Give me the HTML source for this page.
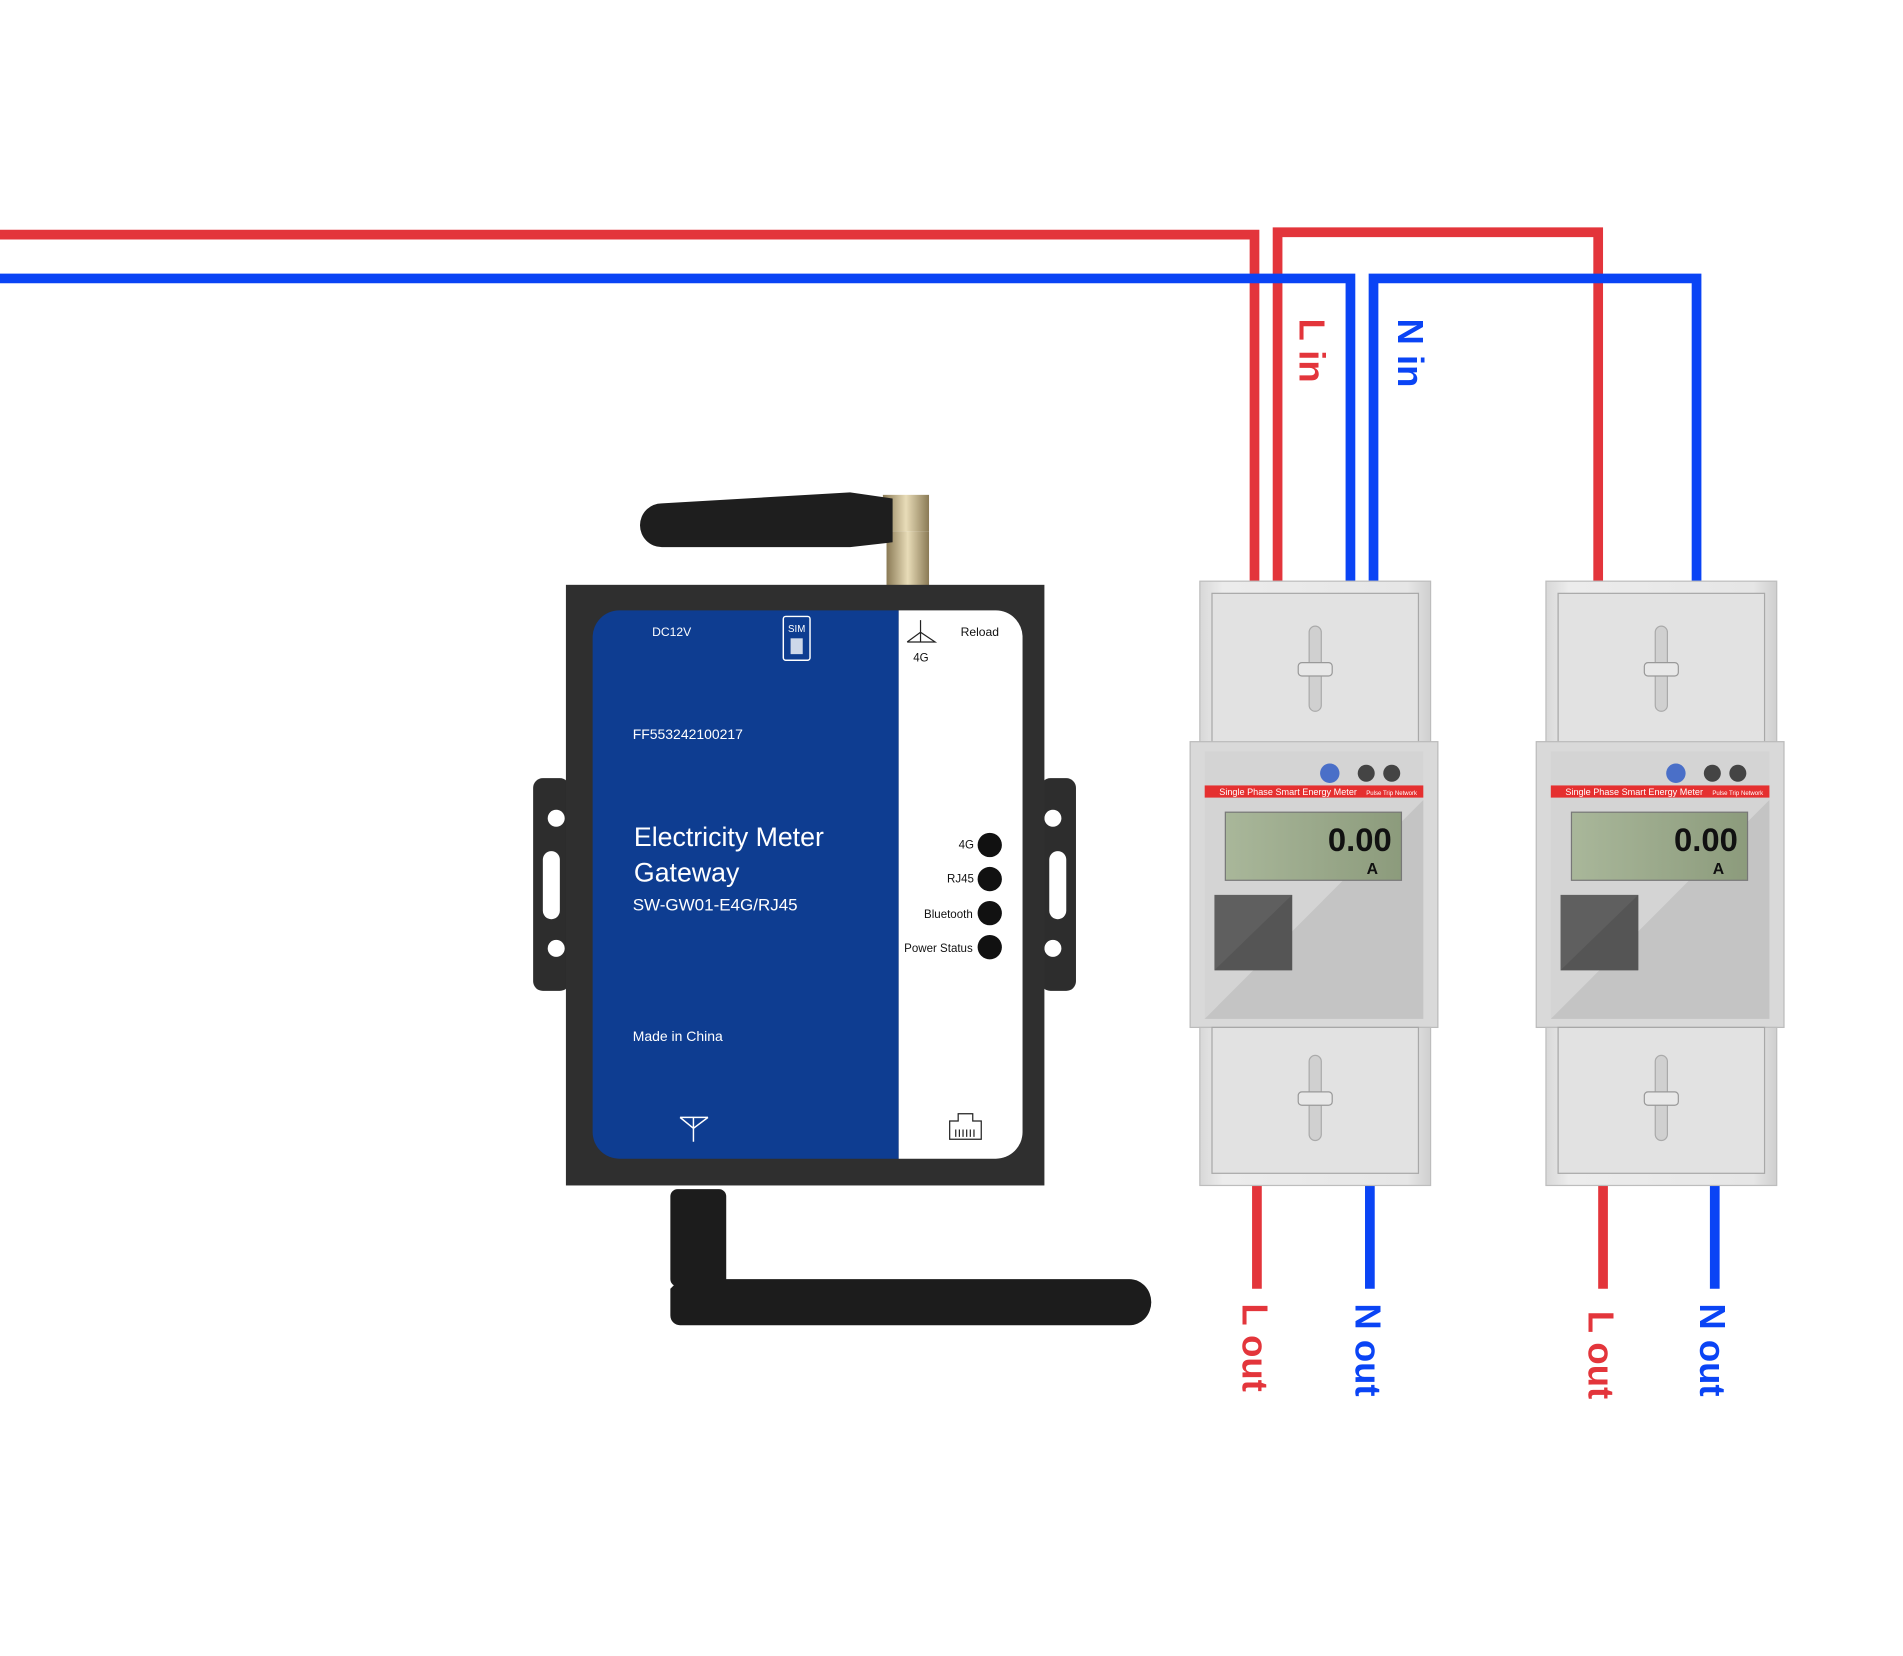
<!DOCTYPE html>
<html><head><meta charset="utf-8"><style>
html,body{margin:0;padding:0;background:#fff;}
svg{display:block;}
text{font-family:"Liberation Sans","DejaVu Sans",sans-serif;}
</style></head><body>
<svg width="1903" height="1656" viewBox="0 0 1567 1362" preserveAspectRatio="none" xmlns="http://www.w3.org/2000/svg">
<defs>
<linearGradient id="mg" x1="0" y1="0" x2="1" y2="0"><stop offset="0" stop-color="#d8d8d8"/><stop offset="0.1" stop-color="#ececec"/><stop offset="0.9" stop-color="#e6e6e6"/><stop offset="1" stop-color="#cfcfcf"/></linearGradient>
<linearGradient id="lcd" x1="0" y1="0" x2="1" y2="0"><stop offset="0" stop-color="#a9b79a"/><stop offset="1" stop-color="#8c9b7c"/></linearGradient>
<linearGradient id="brass" x1="0" y1="0" x2="1" y2="0"><stop offset="0" stop-color="#8a7a55"/><stop offset="0.5" stop-color="#e8dcb8"/><stop offset="1" stop-color="#8a7a55"/></linearGradient>
<g id="meter">
  <rect x="0" y="0" width="190" height="135" fill="url(#mg)" stroke="#bdbdbd"/>
  <rect x="10" y="10" width="170" height="125" fill="#e2e2e2" stroke="#a8a8a8"/>
  <rect x="90" y="37" width="10" height="70" rx="5" fill="#d0d0d0" stroke="#aaa"/>
  <rect x="81" y="67" width="28" height="11" rx="3" fill="#e8e8e8" stroke="#999"/>
  <rect x="-8" y="132" width="204" height="235" fill="#d9d9d9" stroke="#bbb"/>
  <rect x="4" y="140" width="180" height="220" fill="#d4d4d4"/>
  <polygon points="184,180 184,360 4,360" fill="#c4c4c4"/>
  <circle cx="107" cy="158" r="8" fill="#4a6fc8"/>
  <circle cx="137" cy="158" r="7" fill="#444"/>
  <circle cx="158" cy="158" r="7" fill="#444"/>
  <rect x="4" y="168" width="180" height="10" fill="#e53030"/>
  <text x="16" y="176" font-size="7.5" fill="#fff">Single Phase Smart Energy Meter</text>
  <text x="137" y="176" font-size="5" fill="#fff">Pulse Trip Network</text>
  <rect x="21" y="190" width="145" height="56" fill="url(#lcd)" stroke="#777"/>
  <text x="158" y="222" font-size="27" font-family="Liberation Mono,monospace" text-anchor="end" fill="#111" font-weight="bold">0.00</text>
  <text x="142" y="241" font-size="13" fill="#111" font-weight="bold" text-anchor="middle">A</text>
  <rect x="12" y="258" width="64" height="62" fill="#5f5f5f"/>
  <polygon points="12,320 76,258 76,320" fill="#555"/>
  <rect x="0" y="367" width="190" height="130" fill="url(#mg)" stroke="#bdbdbd"/>
  <rect x="10" y="367" width="170" height="120" fill="#e2e2e2" stroke="#a8a8a8"/>
  <rect x="90" y="390" width="10" height="70" rx="5" fill="#d0d0d0" stroke="#aaa"/>
  <rect x="81" y="420" width="28" height="11" rx="3" fill="#e8e8e8" stroke="#999"/>
</g>
</defs>
<rect width="1567" height="1362" fill="#fff"/>
<g fill="none" stroke-width="8">
<polyline points="0,193 1033,193 1033,478" stroke="#e3353b"/>
<polyline points="1052,478 1052,191 1316,191 1316,478" stroke="#e3353b"/>
<polyline points="0,229 1112,229 1112,478" stroke="#0a44f5"/>
<polyline points="1131,478 1131,229 1397,229 1397,478" stroke="#0a44f5"/>
<line x1="1035" y1="975" x2="1035" y2="1060" stroke="#e3353b"/>
<line x1="1128" y1="975" x2="1128" y2="1060" stroke="#0a44f5"/>
<line x1="1320" y1="975" x2="1320" y2="1060" stroke="#e3353b"/>
<line x1="1412" y1="975" x2="1412" y2="1060" stroke="#0a44f5"/>
</g>
<g font-weight="bold" font-size="30">
<text transform="translate(1070,262) rotate(90)" fill="#e3353b">L in</text>
<text transform="translate(1151,262) rotate(90)" fill="#0a44f5">N in</text>
<text transform="translate(1023,1072) rotate(90)" fill="#e3353b">L out</text>
<text transform="translate(1116,1072) rotate(90)" fill="#0a44f5">N out</text>
<text transform="translate(1308,1078) rotate(90)" fill="#e3353b">L out</text>
<text transform="translate(1400,1072) rotate(90)" fill="#0a44f5">N out</text>
</g>
<use href="#meter" x="988" y="478"/>
<use href="#meter" x="1273" y="478"/>
<rect x="727" y="407" width="38" height="30" fill="url(#brass)"/>
<rect x="730" y="437" width="35" height="45" fill="url(#brass)"/>
<path d="M545,414 L700,405 L735,410 L735,446 L700,450 L545,450 A18,18 0 0 1 545,414 Z" fill="#1e1e1e"/>
<rect x="552" y="978" width="46" height="80" rx="6" fill="#1c1c1c"/>
<path d="M560,1052 L930,1052 A18,19 0 0 1 930,1090 L560,1090 A8,8 0 0 1 552,1082 L552,1060 Z" fill="#1c1c1c"/>
<rect x="439" y="640" width="30" height="175" rx="8" fill="#2d2d2d"/>
<rect x="857" y="640" width="29" height="175" rx="8" fill="#2d2d2d"/>
<circle cx="458" cy="673" r="7" fill="#fff"/><circle cx="458" cy="780" r="7" fill="#fff"/>
<rect x="447" y="700" width="14" height="56" rx="7" fill="#fff"/>
<circle cx="867" cy="673" r="7" fill="#fff"/><circle cx="867" cy="780" r="7" fill="#fff"/>
<rect x="864" y="700" width="14" height="56" rx="7" fill="#fff"/>
<rect x="466" y="481" width="394" height="494" fill="#2f2f2f"/>
<path d="M510,502 L740,502 L740,953 L510,953 A22,22 0 0 1 488,931 L488,524 A22,22 0 0 1 510,502 Z" fill="#0e3d91"/>
<path d="M740,502 L820,502 A22,22 0 0 1 842,524 L842,931 A22,22 0 0 1 820,953 L740,953 Z" fill="#fff"/>
<g fill="#fff">
<text x="537" y="523" font-size="10">DC12V</text>
<text x="521" y="608" font-size="11.5">FF553242100217</text>
<text x="522" y="696" font-size="22">Electricity Meter</text>
<text x="522" y="725" font-size="22">Gateway</text>
<text x="521" y="749" font-size="14">SW-GW01-E4G/RJ45</text>
<text x="521" y="856" font-size="11.5">Made in China</text>
</g>
<rect x="645" y="507" width="22" height="36" rx="2" fill="none" stroke="#fff" stroke-width="1.2"/>
<text x="656" y="520" font-size="8" fill="#fff" text-anchor="middle">SIM</text>
<rect x="651" y="525" width="10" height="13" fill="#fff" opacity="0.8"/>
<g stroke="#fff" stroke-width="1.2" fill="none"><path d="M560,919 L583,919 M571,919 L571,939 M560,919 L571,928 L583,919"/></g>
<g fill="#111">
<text x="791" y="523" font-size="10">Reload</text>
<text x="752" y="544" font-size="9.5">4G</text>
<text x="802" y="698" font-size="9.5" text-anchor="end">4G</text>
<text x="802" y="726" font-size="9.5" text-anchor="end">RJ45</text>
<text x="801" y="755" font-size="9.5" text-anchor="end">Bluetooth</text>
<text x="801" y="783" font-size="9.5" text-anchor="end">Power Status</text>
<circle cx="815" cy="695" r="10"/><circle cx="815" cy="723" r="10"/><circle cx="815" cy="751" r="10"/><circle cx="815" cy="779" r="10"/>
</g>
<g stroke="#222" stroke-width="1" fill="none">
<path d="M758,510 L758,528 M747,528 L770,528 L758,520 L747,528"/>
<path d="M782,937 L782,922 L789,922 L789,916 L801,916 L801,922 L808,922 L808,937 Z"/>
<path d="M787,929 L787,935 M790,929 L790,935 M793,929 L793,935 M796,929 L796,935 M799,929 L799,935 M802,929 L802,935"/>
</g>
</svg>
</body></html>
